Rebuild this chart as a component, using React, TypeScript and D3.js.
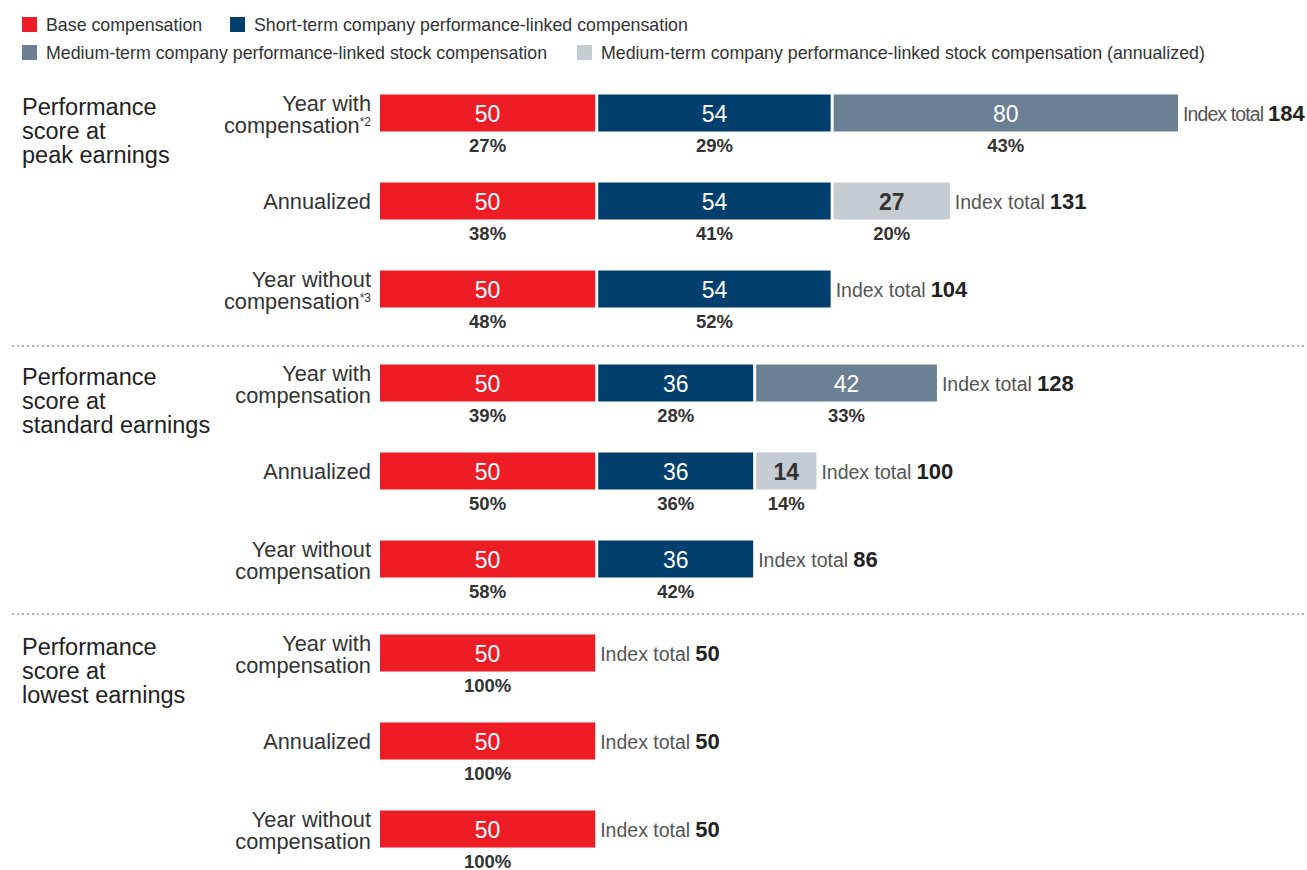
import React from "react";
import * as d3 from "d3";

const legendItems = [
  "Base compensation",
  "Short-term company performance-linked compensation",
  "Medium-term company performance-linked stock compensation",
  "Medium-term company performance-linked stock compensation (annualized)",
];
const colors = ["#ee1c25", "#003f6e", "#6b7f95", "#c5cdd3"];
const valueTextColors = ["#ffffff", "#ffffff", "#ffffff", "#333333"];

const groupLabels = [
  ["Performance", "score at", "peak earnings"],
  ["Performance", "score at", "standard earnings"],
  ["Performance", "score at", "lowest earnings"],
];

// row labels: [line1, line2, superscript]
const rowLabels: [string, string, string][] = [
  ["Year with", "compensation", "*2"],
  ["Annualized", "", ""],
  ["Year without", "compensation", "*3"],
  ["Year with", "compensation", ""],
  ["Annualized", "", ""],
  ["Year without", "compensation", ""],
  ["Year with", "compensation", ""],
  ["Annualized", "", ""],
  ["Year without", "compensation", ""],
];

const baseComp = [50, 50, 50, 50, 50, 50, 50, 50, 50];
const shortTerm = [54, 54, 54, 36, 36, 36, 0, 0, 0];
const mediumStock = [80, 0, 0, 42, 0, 0, 0, 0, 0];
const mediumAnnual = [0, 27, 0, 0, 14, 0, 0, 0, 0];

const pctBase = ["27%", "38%", "48%", "39%", "50%", "58%", "100%", "100%", "100%"];
const pctShort = ["29%", "41%", "52%", "28%", "36%", "42%", "", "", ""];
const pctMedium = ["43%", "", "", "33%", "", "", "", "", ""];
const pctAnnual = ["", "20%", "", "", "14%", "", "", "", ""];

const indexTotals = [184, 131, 104, 128, 100, 86, 50, 50, 50];

const FONT = "'Liberation Sans', Arial, sans-serif";

export default function App() {
  const W = 1307;
  const H = 870;
  const x = d3.scaleLinear().domain([0, 184]).range([380, 1172]);
  const gap = 3;
  const barH = 37;
  const rowY = (i: number) => {
    const g = Math.floor(i / 3);
    const r = i % 3;
    return 113 + g * 270 + r * 88;
  };
  const series = [baseComp, shortTerm, mediumStock, mediumAnnual];
  const pcts = [pctBase, pctShort, pctMedium, pctAnnual];

  const rows = rowLabels.map((lab, i) => {
    const yc = rowY(i);
    let cum = 0;
    let k = 0;
    const segs: any[] = [];
    series.forEach((s, si) => {
      const v = s[i];
      if (!v) return;
      const x0 = x(cum) + k * gap;
      const w = x(v) - x(0);
      segs.push({ si, v, x0, w, pct: pcts[si][i] });
      cum += v;
      k += 1;
    });
    const last = segs[segs.length - 1];
    const endX = last.x0 + last.w;
    return { lab, yc, segs, endX, total: indexTotals[i] };
  });

  const legendPos = [
    { x: 22, y: 17 },
    { x: 230, y: 17 },
    { x: 22, y: 45 },
    { x: 577, y: 45 },
  ];

  return (
    <svg width={W} height={H} style={{ display: "block", position: "absolute", left: 0, top: 0 }} fontFamily={FONT}>
      <rect width={W} height={H} fill="#ffffff" />
      {legendItems.map((t, i) => (
        <g key={t} transform={`translate(${legendPos[i].x},${legendPos[i].y})`}>
          <rect width={15} height={15} fill={colors[i]} />
          <text x={24} y={13.5} fontSize={17.8} fill="#333">
            {t}
          </text>
        </g>
      ))}

      {[0, 1].map((g) => (
        <line
          key={g}
          x1={12}
          x2={1307}
          y1={346 + g * 268}
          y2={346 + g * 268}
          stroke="#666"
          strokeWidth={1}
          strokeDasharray="2,3"
        />
      ))}

      {groupLabels.map((lines, g) => (
        <text key={g} x={22} y={113 + g * 270 + 2} fontSize={23.5} fill="#222">
          {lines.map((l, j) => (
            <tspan key={j} x={22} dy={j === 0 ? 0 : 24}>
              {l}
            </tspan>
          ))}
        </text>
      ))}

      {rows.map((r, i) => {
        const tight = r.endX + 140 > W;
        return (
          <g key={i}>
            {r.lab[1] ? (
              <g>
                <text x={371} y={r.yc - 2.5} textAnchor="end" fontSize={21.8} fill="#333">
                  {r.lab[0]}
                </text>
                <text x={371} y={r.yc + 20} textAnchor="end" fontSize={21.8} fill="#333">
                  {r.lab[1]}
                  {r.lab[2] ? (
                    <tspan fontSize={12} dy={-7}>{r.lab[2]}</tspan>
                  ) : null}
                </text>
              </g>
            ) : (
              <text x={371} y={r.yc + 8} textAnchor="end" fontSize={21.8} fill="#333">
                {r.lab[0]}
              </text>
            )}
            {r.segs.map((s: any) => (
              <g key={s.si}>
                <rect x={s.x0} y={r.yc - barH / 2} width={s.w} height={barH} fill={colors[s.si]} />
                <text
                  x={s.x0 + s.w / 2}
                  y={r.yc + 8.5}
                  textAnchor="middle"
                  fontSize={23}
                  fill={valueTextColors[s.si]}
                  fontWeight={s.si === 3 ? "bold" : "normal"}
                >
                  {s.v}
                </text>
                {s.pct ? (
                  <text
                    x={s.x0 + s.w / 2}
                    y={r.yc + 39}
                    textAnchor="middle"
                    fontSize={18.5}
                    fontWeight="bold"
                    fill="#333"
                  >
                    {s.pct}
                  </text>
                ) : null}
              </g>
            ))}
            <text x={r.endX + 5} y={r.yc + 7.5} fontSize={19.5} fill="#555">
              <tspan letterSpacing={tight ? -0.9 : 0}>Index total</tspan>
              <tspan fontWeight="bold" fontSize={22} fill="#222" dx={5}>
                {r.total}
              </tspan>
            </text>
          </g>
        );
      })}
    </svg>
  );
}
